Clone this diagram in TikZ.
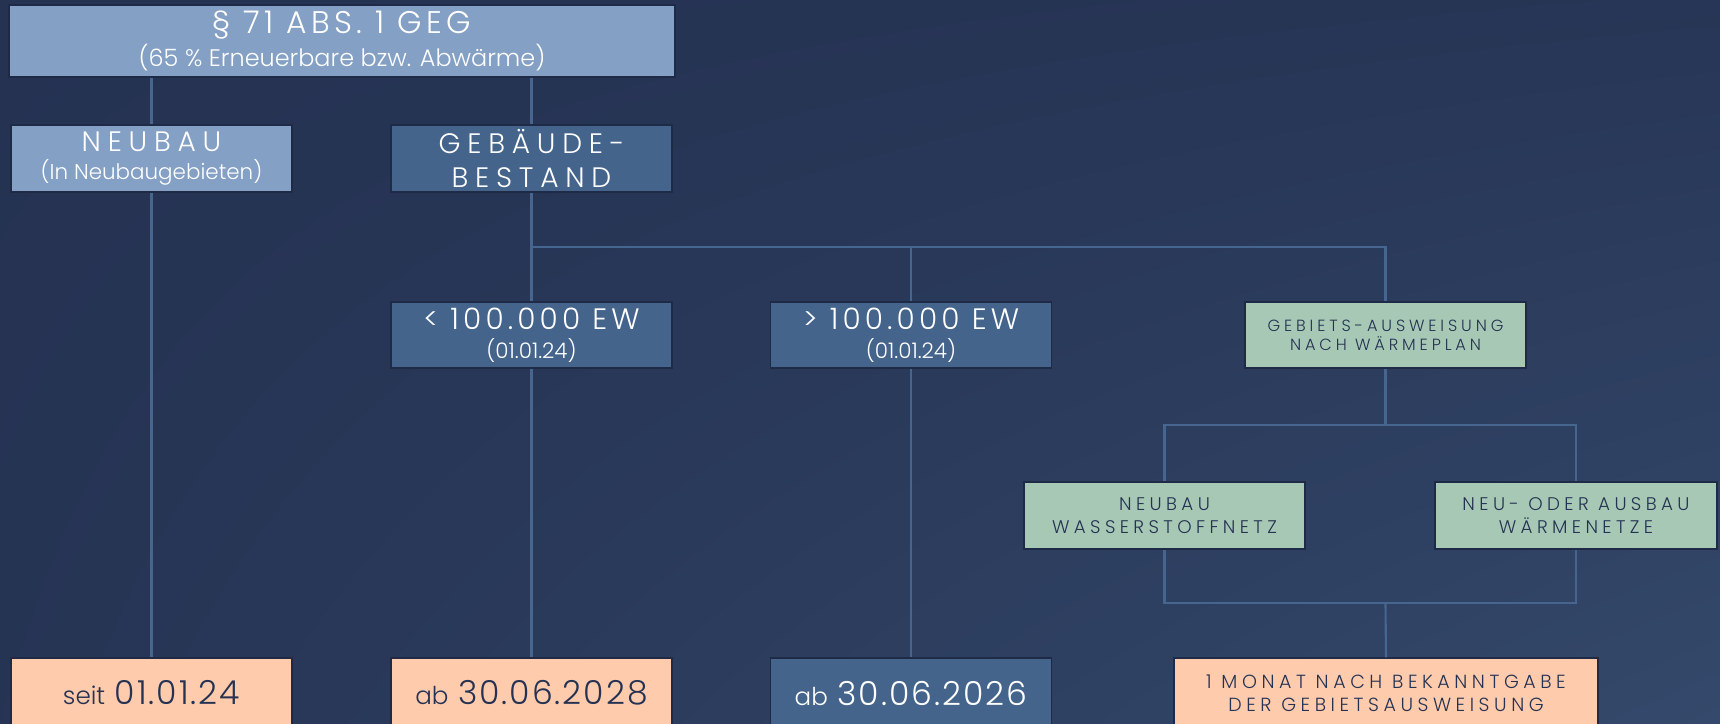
\documentclass[tikz,border=0pt]{standalone}
\usepackage{fontspec}
\setmainfont{Poppins}[UprightFont=* Light]
\newfontfamily\halbweit{Poppins}[UprightFont=* Light,LetterSpace=6]
\newfontfamily\wide{Poppins}[UprightFont=* Light,LetterSpace=14]
\newfontfamily\wider{Poppins}[UprightFont=* Light,LetterSpace=24]
\usepackage{tikz}
\usetikzlibrary{shadings}
\definecolor{bgA}{HTML}{253252}
\definecolor{bgB}{HTML}{34496B}
\definecolor{hell}{HTML}{84A0C4}
\definecolor{mittel}{HTML}{44648C}
\definecolor{gruen}{HTML}{A6C8B4}
\definecolor{pfirsich}{HTML}{FFCBAD}
\definecolor{linie}{HTML}{46668F}
\newcommand\klein[1]{{\normalfont\fontsize{6.1}{7}\selectfont #1}}
\newcommand\datum[2]{{\fontsize{7}{8}\selectfont #1} {\halbweit\fontsize{9.4}{10}\selectfont #2}}
\tikzset{
  kasten/.style={minimum width=2.81cm,minimum height=0.67cm,inner sep=0pt,align=center,draw=bgA!85!black,line width=0.4pt},
  hellbox/.style={kasten,fill=hell,text=white},
  blaubox/.style={kasten,fill=mittel,text=white},
  gruenbox/.style={kasten,fill=gruen,text=bgA,font=\wider\fontsize{5.2}{6.6}\selectfont},
  datbox/.style={kasten,fill=pfirsich,text=bgA,minimum height=0.70cm},
  gross/.style={font=\wide\fontsize{8.4}{8}\selectfont},
  verb/.style={draw=linie,line width=0.6pt}
}

\begin{document}
\begin{tikzpicture}[x=0.01cm,y=-0.01cm]
    \shade[upper left=bgA,upper right=bgA!85!bgB,lower left=bgA!90!bgB,lower right=bgB] (0,0) rectangle (1720,723); %Hintergrund
    \useasboundingbox (0,0) rectangle (1720,723);
    \node[hellbox,minimum width=6.66cm,minimum height=0.72cm,font=\wide\fontsize{8.9}{9}\selectfont] (gesetz) at (342,41) {§ 71 ABS. 1 GEG\\[0.2pt]{\normalfont\fontsize{6.8}{7}\selectfont(65 \% Erneuerbare bzw. Abwärme)}};
    \node[hellbox,font=\wider\fontsize{8}{8}\selectfont] (neubau) at (151.5,158.5) {NEUBAU\\[0.2pt]\klein{(In Neubaugebieten)}};
    \node[blaubox,font=\wider\fontsize{8}{9.5}\selectfont] (bestand) at (531.5,158.5) {GEBÄUDE-\\BESTAND};
    \node[blaubox,gross,minimum height=0.66cm] (klein) at (531.5,335) {< 100.000 EW\\[0.3pt]\klein{(01.01.24)}};
    \node[blaubox,gross,minimum height=0.66cm] (gross) at (911,335) {> 100.000 EW\\[0.3pt]\klein{(01.01.24)}};
    \node[gruenbox,minimum height=0.66cm,font=\wider\fontsize{4.6}{5.4}\selectfont] (gebiet) at (1385.5,335) {GEBIETS-AUSWEISUNG\\NACH WÄRMEPLAN};
    \node[gruenbox] (wasserstoff) at (1164.5,515.5) {NEUBAU\\WASSERSTOFFNETZ};
    \node[gruenbox,minimum width=2.82cm] (waermenetz) at (1576,515.5) {NEU- ODER AUSBAU\\WÄRMENETZE};
    \node[datbox] (seit) at (151.5,693) {\datum{seit}{01.01.24}};
    \node[datbox] (ab28) at (531.5,693) {\datum{ab}{30.06.2028}};
    \node[blaubox,minimum height=0.70cm] (ab26) at (911,693) {\datum{ab}{30.06.2026}};
    \node[datbox,minimum width=4.24cm,font=\wider\fontsize{5.4}{6.4}\selectfont] (monat) at (1386,693) {1 MONAT NACH BEKANNTGABE\\DER GEBIETSAUSWEISUNG};
    \coordinate (split) at (531.5,247); %Verzweigung Bestand
    \coordinate (split2) at (1385.5,425); %Verzweigung Waermeplan
    \coordinate (merge) at (1385.5,603); %Zusammenfuehrung
    \draw[verb] (neubau.north) -- (neubau.north |- gesetz.south);
    \draw[verb] (bestand.north) -- (bestand.north |- gesetz.south);
    \draw[verb] (neubau.south) -- (seit.north);
    \draw[verb] (bestand.south) -- (klein.north);
    \draw[verb] (split) -| (gross.north);
    \draw[verb] (split) -| (gebiet.north);
    \draw[verb] (klein.south) -- (ab28.north);
    \draw[verb] (gross.south) -- (ab26.north);
    \draw[verb] (gebiet.south) -- (split2);
    \draw[verb] (wasserstoff.north) |- (waermenetz.north |- split2) -- (waermenetz.north);
    \draw[verb] (wasserstoff.south) |- (waermenetz.south |- merge) -- (waermenetz.south);
    \draw[verb] (merge) -- (monat.north);
  \end{tikzpicture}
\end{document}
